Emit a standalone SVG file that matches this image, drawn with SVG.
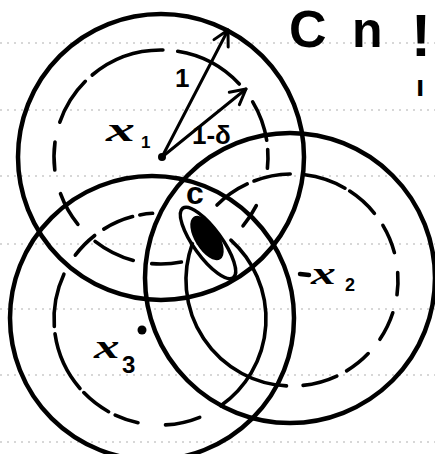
<svg xmlns="http://www.w3.org/2000/svg" width="435" height="454" viewBox="0 0 435 454">
  <style>
    .rule { stroke: #a0a0a0; stroke-width: 1.3; stroke-dasharray: 2 5; opacity: 0.55; }
    .solid { fill: none; stroke: #000; stroke-width: 4.5; }
    .dash { fill: none; stroke: #000; stroke-width: 3.6; stroke-linecap: round; }
    .hand { font-family: "Liberation Sans", Arial, sans-serif; font-weight: bold; fill: #000; }
    .var { font-family: "Liberation Serif", "Times New Roman", serif; font-style: italic; font-weight: bold; fill: #000; }
    .arrow { fill: none; stroke: #000; stroke-width: 3; stroke-linecap: round; }
  </style>
  <defs>
    <marker id="vhead" markerUnits="userSpaceOnUse" markerWidth="24" markerHeight="24" viewBox="-18 -12 24 24" refX="0" refY="0" orient="auto">
      <path d="M-15,-8 L0,0 L-15,8" fill="none" stroke="#000" stroke-width="3" stroke-linecap="round" stroke-linejoin="round"/>
    </marker>
  </defs>
  <rect width="435" height="454" fill="#fff"/>

  <g id="ruled-paper">
    <line class="rule" x1="0" y1="43" x2="435" y2="43"/>
    <line class="rule" x1="0" y1="110" x2="435" y2="110"/>
    <line class="rule" x1="0" y1="176" x2="435" y2="176"/>
    <line class="rule" x1="0" y1="244" x2="435" y2="244"/>
    <line class="rule" x1="0" y1="309" x2="435" y2="309"/>
    <line class="rule" x1="0" y1="375" x2="435" y2="375"/>
    <line class="rule" x1="0" y1="442" x2="435" y2="442"/>
  </g>

  <g id="node-x1">
    <circle class="solid" cx="161" cy="157" r="143"/>
    <path class="dash" d="M54.8,170.0 A107,107 0 0 1 55.0,142.1 M59.8,122.2 A107,107 0 0 1 85.3,81.3 M92.2,75.0 A107,107 0 0 1 162.9,50.0 M177.7,51.3 A107,107 0 0 1 239.3,84.0 M252.7,101.9 A107,107 0 0 1 266.7,140.3 M267.7,149.5 A107,107 0 0 1 267.4,168.2 M256.3,205.6 A107,107 0 0 1 243.0,225.8 M181.4,262.0 A107,107 0 0 1 151.7,263.6 M133.3,260.4 A107,107 0 0 1 95.1,241.3 M77.9,224.3 A107,107 0 0 1 60.5,193.6"/>
    <circle cx="162" cy="157" r="4" fill="#000"/>
    <text class="var" font-size="34" transform="translate(106,141) scale(1.7,1)">x</text>
    <text class="hand" font-size="17" x="141" y="148">1</text>
  </g>

  <g id="node-x2">
    <circle class="solid" cx="290" cy="278" r="145"/>
    <path class="dash" d="M217.0,205.0 A106,106 0 0 1 247.2,183.9 M254.0,181.0 A106,106 0 0 1 290.2,174.0 M304.9,174.8 A106,106 0 0 1 345.0,188.2 M349.7,191.1 A106,106 0 0 1 374.4,213.3 M382.9,225.4 A106,106 0 0 1 394.4,252.6 M397.7,272.6 A106,106 0 0 1 397.0,294.8 M392.8,312.8 A106,106 0 0 1 379.9,339.3 M368.2,353.6 A106,106 0 0 1 346.6,370.9 M336.8,376.1 A106,106 0 0 1 303.1,385.4 M286.5,385.9 A106,106 0 0 1 192.4,243.7"/>
    <line x1="300" y1="274" x2="309" y2="275" stroke="#000" stroke-width="4.5" stroke-linecap="round"/>
    <text class="var" font-size="31" transform="translate(311,284) scale(1.6,1)">x</text>
    <text class="hand" font-size="18" x="345" y="291">2</text>
  </g>

  <g id="node-x3">
    <circle class="solid" cx="152" cy="318" r="142"/>
    <path class="dash" d="M230.9,240.2 A106,106 0 0 1 220.8,405.8 M199.7,417.3 A106,106 0 0 1 165.5,424.9 M138.0,422.7 A106,106 0 0 1 115.2,415.1 M108.6,411.7 A106,106 0 0 1 83.8,392.6 M80.0,388.5 A106,106 0 0 1 55.0,333.8 M54.3,326.4 A106,106 0 0 1 63.9,274.2 M75.3,255.2 A106,106 0 0 1 94.7,235.5 M103.8,229.1 A106,106 0 0 1 132.6,216.6 M139.8,214.9 A106,106 0 0 1 152.6,213.3"/>
    <circle cx="142" cy="330" r="4.5" fill="#000"/>
    <text class="var" font-size="34" transform="translate(94,358) scale(1.5,1)">x</text>
    <text class="hand" font-size="24" x="122" y="373">3</text>
  </g>

  <g id="region-c">
    <ellipse cx="208" cy="243" rx="43" ry="14" transform="rotate(54 208 243)" fill="none" stroke="#000" stroke-width="3.5"/>
    <ellipse cx="207" cy="238" rx="25" ry="12" transform="rotate(58 207 238)" fill="#000"/>
    <text class="hand" font-size="32" x="186" y="204">c</text>
  </g>

  <g id="title">
    <text class="hand"><tspan x="289" y="47" font-size="52">C</tspan><tspan x="352" y="47" font-size="50">n</tspan><tspan x="411" y="56" font-size="60">!</tspan><tspan x="416" y="96" font-size="30">ı</tspan></text>
  </g>

  <g id="connectors">
    <line class="arrow" x1="162" y1="157" x2="228" y2="30" marker-end="url(#vhead)"/>
    <line class="arrow" x1="162" y1="157" x2="246" y2="89" marker-end="url(#vhead)"/>
    <text class="hand" font-size="26" x="175" y="87">1</text>
    <text class="hand" font-size="26" x="192" y="144">1-δ</text>
  </g>
</svg>
